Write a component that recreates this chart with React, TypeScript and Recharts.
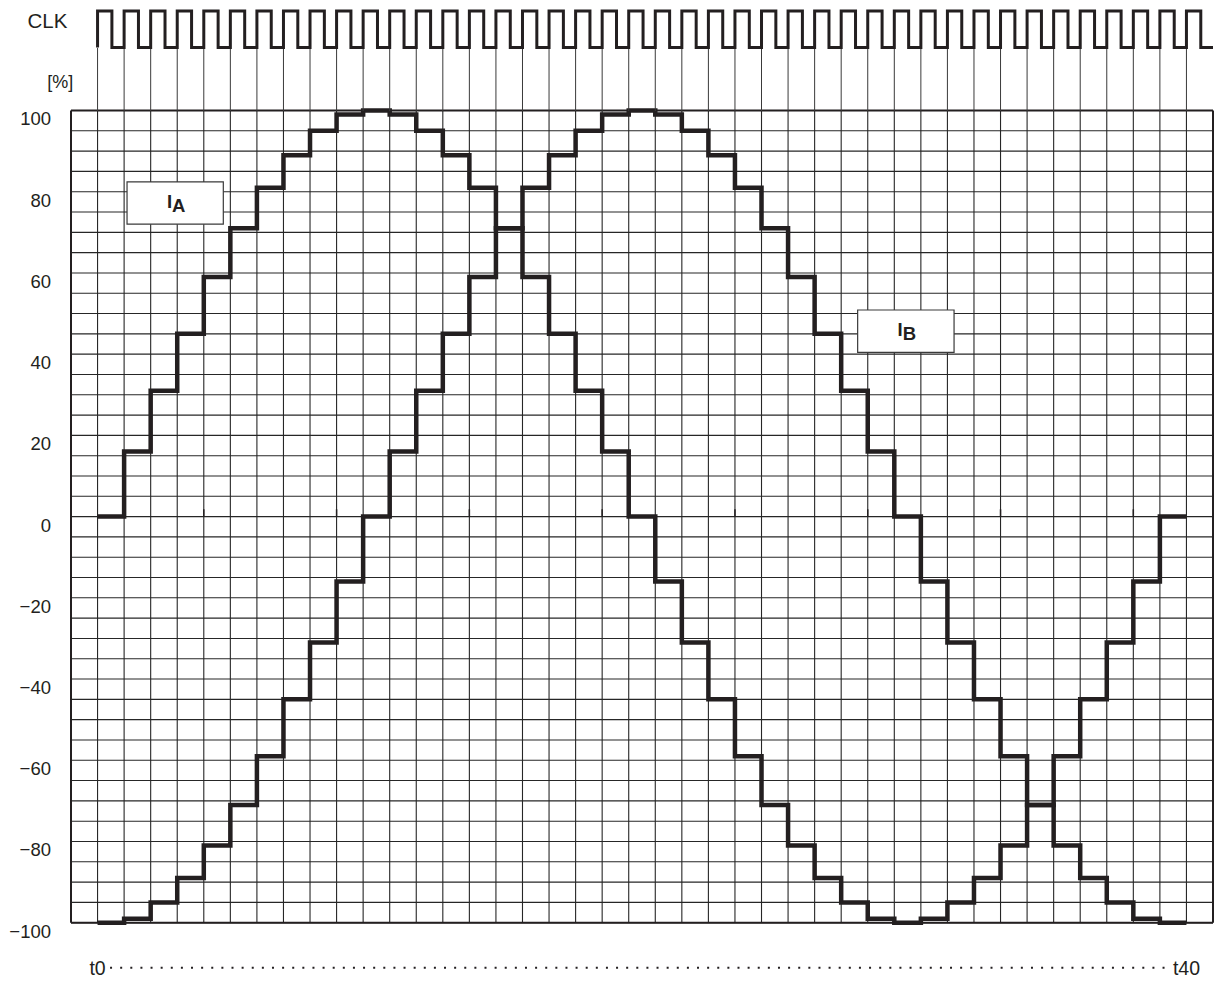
import React from 'react';
import {
  ComposedChart,
  Line,
  XAxis,
  YAxis,
  CartesianGrid,
  ReferenceLine,
  ReferenceArea,
} from 'recharts';

// ---------------- data ----------------
// microstep index t0 … t40
const STEPS = [
  0, 1, 2, 3, 4, 5, 6, 7, 8, 9, 10, 11, 12, 13, 14, 15, 16, 17, 18, 19, 20,
  21, 22, 23, 24, 25, 26, 27, 28, 29, 30, 31, 32, 33, 34, 35, 36, 37, 38, 39, 40,
];
// phase current IA [%]
const IA_VALUES = [
  0, 16, 31, 45, 59, 71, 81, 89, 95, 99, 100, 99, 95, 89, 81, 71, 59, 45, 31, 16,
  0, -16, -31, -45, -59, -71, -81, -89, -95, -99, -100, -99, -95, -89, -81, -71,
  -59, -45, -31, -16, 0,
];
// phase current IB [%]
const IB_VALUES = [
  -100, -99, -95, -89, -81, -71, -59, -45, -31, -16, 0, 16, 31, 45, 59, 71, 81,
  89, 95, 99, 100, 99, 95, 89, 81, 71, 59, 45, 31, 16, 0, -16, -31, -45, -59,
  -71, -81, -89, -95, -99, -100,
];
// clock rising edges (one per step, plus the closing one)
const CLK_EDGES = [
  0, 1, 2, 3, 4, 5, 6, 7, 8, 9, 10, 11, 12, 13, 14, 15, 16, 17, 18, 19, 20,
  21, 22, 23, 24, 25, 26, 27, 28, 29, 30, 31, 32, 33, 34, 35, 36, 37, 38, 39, 40, 41,
];
const Y_TICKS = [-100, -80, -60, -40, -20, 0, 20, 40, 60, 80, 100];
const GRID_Y = [
  -100, -95, -90, -85, -80, -75, -70, -65, -60, -55, -50, -45, -40, -35, -30,
  -25, -20, -15, -10, -5, 0, 5, 10, 15, 20, 25, 30, 35, 40, 45, 50, 55, 60, 65,
  70, 75, 80, 85, 90, 95, 100,
];
const TIME_LABELS = ['t0', 't40'];
const TIME_MARKS = [0, 41];
const ZERO_MARKS = [4, 9, 14, 19, 24, 29, 34, 39];
const SERIES_LABELS = [
  { main: 'I', sub: 'A' },
  { main: 'I', sub: 'B' },
];

// ---------------- layout / style ----------------
const W = 1216;
const H = 983;
const X_DOMAIN: [number, number] = [-1, 42];
const PLOT_LEFT = 71;
const PLOT_RIGHT = 3;
const PLOT_TOP = 110.5;
const PLOT_BOTTOM = 60.3;
const CLK_HIGH_Y = 11;
const CLK_LOW_Y = 47.5;
const CLK_DUTY = 0.54;
const LABEL_BOXES = [
  { x1: 1.11, x2: 4.735, y1: 72, y2: 82.4 },
  { x1: 28.62, x2: 32.25, y1: 40.46, y2: 50.87 },
];
const INK = '#231f20';
const GRID = '#262626';
const FONT = '"Liberation Sans", Arial, Helvetica, sans-serif';

// ---------------- derived tables ----------------
const LAST = STEPS.length - 1;
const TABLE = STEPS.map((s, i) => ({ x: s, ia: IA_VALUES[i], ib: IB_VALUES[i] })).concat([
  { x: STEPS[LAST] + 1, ia: IA_VALUES[LAST], ib: IB_VALUES[LAST] },
]);

const CLK_DATA: { t: number; clk: number }[] = [];
CLK_EDGES.forEach((t) => {
  CLK_DATA.push({ t, clk: 0 }, { t, clk: 1 }, { t: t + CLK_DUTY, clk: 1 }, { t: t + CLK_DUTY, clk: 0 });
});
CLK_DATA.push({ t: X_DOMAIN[1], clk: 0 });

// ---------------- renderers ----------------
const renderYTick = (props: any) => {
  const { x, y, payload } = props;
  const v = payload.value;
  const label = v < 0 ? '\u2212' + Math.abs(v) : String(v);
  return (
    <text x={x} y={y + 14.9} textAnchor="end" fontSize={18.5} fill={INK} fontFamily={FONT}>
      {label}
    </text>
  );
};

const renderTitles = () => (
  <g>
    <text x={27.5} y={27.5} fontSize={20.5} fill={INK} fontFamily={FONT}>
      CLK
    </text>
    <text x={60.3} y={88} textAnchor="middle" fontSize={18} fill={INK} fontFamily={FONT}>
      [%]
    </text>
  </g>
);

const makeBoxLabel = (main: string, sub: string) => (props: any) => {
  const vb = props.viewBox || {};
  const cx = vb.x + vb.width / 2;
  const cy = vb.y + vb.height / 2;
  return (
    <text
      x={cx + 1}
      y={cy + 4.5}
      textAnchor="middle"
      fontSize={18.5}
      fontWeight="bold"
      fill={INK}
      fontFamily={FONT}
    >
      <tspan>{main}</tspan>
      <tspan dy={4.5}>{sub}</tspan>
    </text>
  );
};

const TimeAxisShape = (props: any) => {
  const { x1, y1, x2 } = props;
  const y = y1 + 45;
  return (
    <g>
      <text x={x1} y={y + 7} textAnchor="middle" fontSize={19.5} fill={INK} fontFamily={FONT}>
        {TIME_LABELS[0]}
      </text>
      <line
        x1={x1 + 12.5}
        x2={x2 - 21}
        y1={y}
        y2={y}
        stroke={INK}
        strokeWidth={2}
        strokeDasharray="2 8.12"
      />
      <text x={x2} y={y + 7} textAnchor="middle" fontSize={19.5} fill={INK} fontFamily={FONT}>
        {TIME_LABELS[1]}
      </text>
    </g>
  );
};

export default function App() {
  return (
    <div
      style={{
        position: 'absolute',
        left: 0,
        top: 0,
        width: W,
        height: H,
        background: '#ffffff',
        fontFamily: FONT,
      }}
    >
      {/* main current diagram */}
      <div style={{ position: 'absolute', left: 0, top: 0 }}>
        <ComposedChart
          width={W}
          height={H}
          data={TABLE}
          margin={{ top: PLOT_TOP, right: PLOT_RIGHT, bottom: PLOT_BOTTOM, left: 0 }}
        >
          <CartesianGrid
            stroke={GRID}
            strokeWidth={1.1}
            horizontalValues={GRID_Y}
            verticalValues={CLK_EDGES}
          />
          <XAxis dataKey="x" type="number" domain={X_DOMAIN} ticks={CLK_EDGES} hide />
          <YAxis
            type="number"
            domain={[-100, 100]}
            ticks={Y_TICKS}
            interval={0}
            width={PLOT_LEFT}
            axisLine={false}
            tickLine={false}
            tickSize={0}
            tickMargin={20}
            tick={renderYTick}
            label={renderTitles}
          />
          <ReferenceLine x={X_DOMAIN[0]} stroke={INK} strokeWidth={2} ifOverflow="visible" />
          <ReferenceLine x={X_DOMAIN[1]} stroke={INK} strokeWidth={2} ifOverflow="visible" />
          <ReferenceLine y={100} stroke={INK} strokeWidth={2} ifOverflow="visible" />
          <ReferenceLine y={-100} stroke={INK} strokeWidth={2} ifOverflow="visible" />
          {ZERO_MARKS.map((m) => (
            <ReferenceLine
              key={'z' + m}
              segment={[
                { x: m, y: 0 },
                { x: m, y: 1.8 },
              ]}
              stroke={INK}
              strokeWidth={1.5}
              ifOverflow="visible"
            />
          ))}
          {LABEL_BOXES.map((b, i) => (
            <ReferenceArea
              key={'box' + i}
              x1={b.x1}
              x2={b.x2}
              y1={b.y1}
              y2={b.y2}
              fill="#ffffff"
              fillOpacity={1}
              stroke="#3a3a3a"
              strokeWidth={1.2}
              ifOverflow="visible"
              label={makeBoxLabel(SERIES_LABELS[i].main, SERIES_LABELS[i].sub)}
            />
          ))}
          <ReferenceLine
            segment={[
              { x: TIME_MARKS[0], y: -100 },
              { x: TIME_MARKS[1], y: -100 },
            ]}
            ifOverflow="visible"
            shape={TimeAxisShape}
          />
          <Line
            dataKey="ia"
            type="stepAfter"
            stroke={INK}
            strokeWidth={4.5}
            dot={false}
            activeDot={false}
            isAnimationActive={false}
          />
          <Line
            dataKey="ib"
            type="stepAfter"
            stroke={INK}
            strokeWidth={4.5}
            dot={false}
            activeDot={false}
            isAnimationActive={false}
          />
        </ComposedChart>
      </div>

      {/* grid lines hanging from the clock */}
      <div style={{ position: 'absolute', left: 0, top: CLK_LOW_Y }}>
        <ComposedChart
          width={W}
          height={PLOT_TOP - CLK_LOW_Y}
          data={TABLE}
          margin={{ top: 0, right: PLOT_RIGHT, bottom: 0, left: PLOT_LEFT }}
        >
          <XAxis dataKey="x" type="number" domain={X_DOMAIN} ticks={CLK_EDGES} hide />
          <YAxis type="number" domain={[0, 1]} hide />
          <CartesianGrid stroke="#3a3a3a" strokeWidth={1} horizontal={false} verticalValues={CLK_EDGES} />
        </ComposedChart>
      </div>

      {/* CLK waveform */}
      <div style={{ position: 'absolute', left: 0, top: 0 }}>
        <ComposedChart
          width={W}
          height={CLK_LOW_Y + 4}
          data={CLK_DATA}
          margin={{ top: CLK_HIGH_Y, right: PLOT_RIGHT, bottom: 4, left: PLOT_LEFT }}
        >
          <XAxis dataKey="t" type="number" domain={X_DOMAIN} hide />
          <YAxis type="number" domain={[0, 1]} hide />
          <Line
            dataKey="clk"
            type="linear"
            stroke={INK}
            strokeWidth={3}
            dot={false}
            activeDot={false}
            isAnimationActive={false}
          />
        </ComposedChart>
      </div>
    </div>
  );
}
